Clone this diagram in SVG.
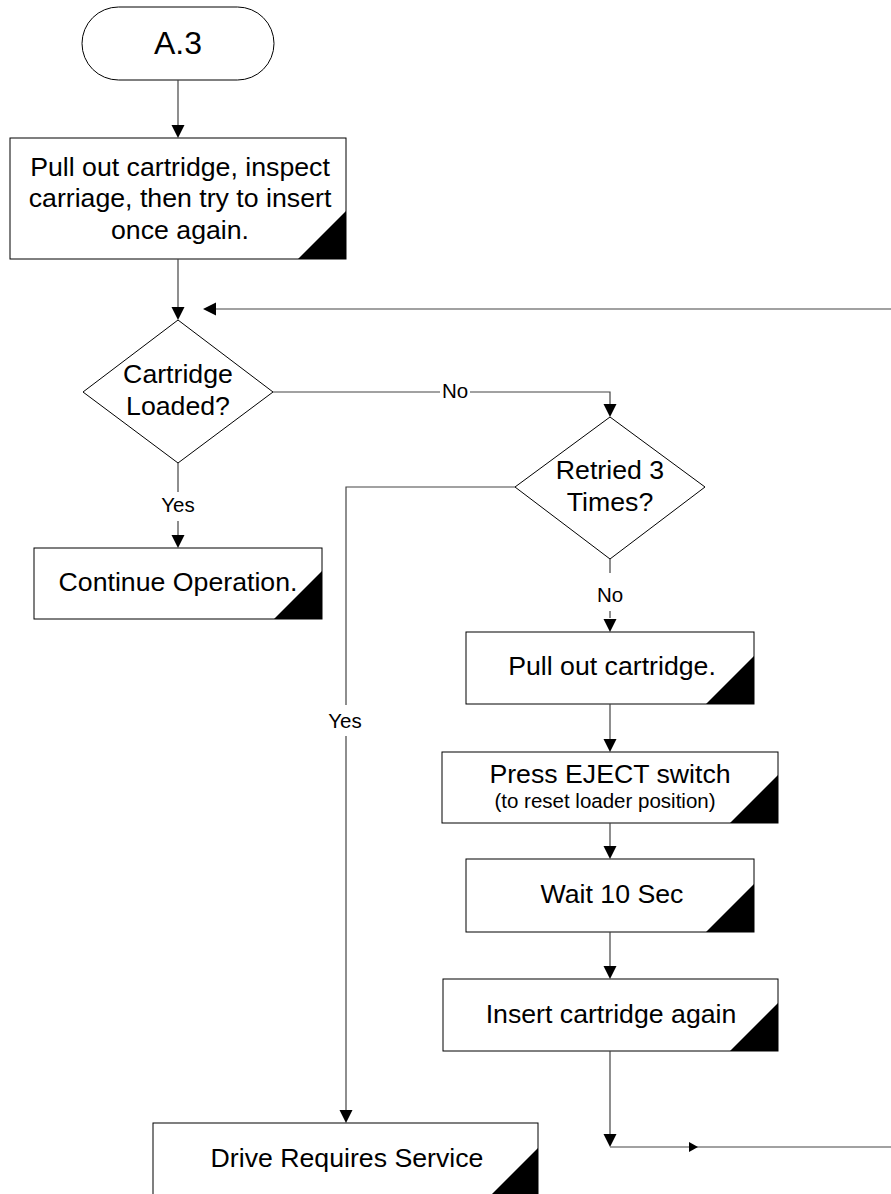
<svg xmlns="http://www.w3.org/2000/svg" width="891" height="1194" viewBox="0 0 891 1194">
<style>
.shape{fill:#fff;stroke:#000;stroke-width:1}
.corner{fill:#000;stroke:none}
.t{font-family:"Liberation Sans",Arial,sans-serif;font-size:26.7px;fill:#000;text-anchor:middle}
.s{font-family:"Liberation Sans",Arial,sans-serif;font-size:20.5px;fill:#000;text-anchor:middle}
.ln{fill:none;stroke:#444;stroke-width:1.2}
.ah{fill:#000;stroke:none}
</style>
<rect width="891" height="1194" fill="#fff"/>
<g id="start">
<rect class="shape" x="82" y="7" width="192" height="73" rx="36.5" ry="36.5"/>
<text class="t" x="178" y="54" style="font-size:32px">A.3</text>
</g>
<g id="box1">
<rect class="shape" x="10" y="138" width="336" height="121"/>
<polygon class="corner" points="346,211 346,259 298,259"/>
<text class="t" x="180" y="176">Pull out cartridge, inspect</text>
<text class="t" x="180" y="207">carriage, then try to insert</text>
<text class="t" x="180" y="239">once again.</text>
</g>
<g id="dec1">
<polygon class="shape" points="178,320 273,392 178,463 83,392"/>
<text class="t" x="178" y="383">Cartridge</text>
<text class="t" x="178" y="415">Loaded?</text>
</g>
<g id="continue">
<rect class="shape" x="34" y="548" width="288" height="71"/>
<polygon class="corner" points="322,571 322,619 274,619"/>
<text class="t" x="178" y="591">Continue Operation.</text>
</g>
<g id="dec2">
<polygon class="shape" points="610,417 705,487 610,559 515,487"/>
<text class="t" x="610" y="479">Retried 3</text>
<text class="t" x="610" y="511">Times?</text>
</g>
<g id="pullout">
<rect class="shape" x="466" y="632" width="288" height="72"/>
<polygon class="corner" points="754,656 754,704 706,704"/>
<text class="t" x="612" y="675">Pull out cartridge.</text>
</g>
<g id="eject">
<rect class="shape" x="442" y="752" width="336" height="71"/>
<polygon class="corner" points="778,775 778,823 730,823"/>
<text class="t" x="610" y="783">Press EJECT switch</text>
<text class="t" x="605" y="808" style="font-size:20.5px">(to reset loader position)</text>
</g>
<g id="wait">
<rect class="shape" x="466" y="859" width="288" height="73"/>
<polygon class="corner" points="754,884 754,932 706,932"/>
<text class="t" x="612" y="903">Wait 10 Sec</text>
</g>
<g id="insert">
<rect class="shape" x="443" y="979" width="335" height="72"/>
<polygon class="corner" points="778,1003 778,1051 730,1051"/>
<text class="t" x="611" y="1023">Insert cartridge again</text>
</g>
<g id="service">
<rect class="shape" x="153" y="1123" width="385" height="73"/>
<polygon class="corner" points="538,1148 538,1196 490,1196"/>
<text class="t" x="347" y="1167">Drive Requires Service</text>
</g>
<g id="connectors">
<path class="ln" d="M178,80 V126"/>
<polygon class="ah" points="178,138 171.5,125 184.5,125"/>
<path class="ln" d="M178,259 V308"/>
<polygon class="ah" points="178,320 171.5,307 184.5,307"/>
<path class="ln" d="M891,309 H215"/>
<polygon class="ah" points="203,309 216,302.5 216,315.5"/>
<path class="ln" d="M273,392 H440 M470,392 H610 V405"/>
<polygon class="ah" points="610,417 603.5,404 616.5,404"/>
<text class="s" x="455" y="398">No</text>
<path class="ln" d="M178,463 V492 M178,521 V536"/>
<polygon class="ah" points="178,548 171.5,535 184.5,535"/>
<text class="s" x="178" y="512">Yes</text>
<path class="ln" d="M515,487 H346 V705 M346,736 V1111"/>
<polygon class="ah" points="346,1123 339.5,1110 352.5,1110"/>
<text class="s" x="345" y="728">Yes</text>
<path class="ln" d="M610,559 V573 M610,611 V618"/>
<polygon class="ah" points="610,632 603.5,619 616.5,619"/>
<text class="s" x="610" y="602">No</text>
<path class="ln" d="M610,704 V740"/>
<polygon class="ah" points="610,752 603.5,739 616.5,739"/>
<path class="ln" d="M610,823 V847"/>
<polygon class="ah" points="610,859 603.5,846 616.5,846"/>
<path class="ln" d="M610,932 V967"/>
<polygon class="ah" points="610,979 603.5,966 616.5,966"/>
<path class="ln" d="M610,1051 V1135"/>
<polygon class="ah" points="610,1147 603.5,1134 616.5,1134"/>
<path class="ln" d="M610,1147 H891"/>
<polygon class="ah" points="698,1147 689,1142 689,1152"/>
</g>
</svg>
